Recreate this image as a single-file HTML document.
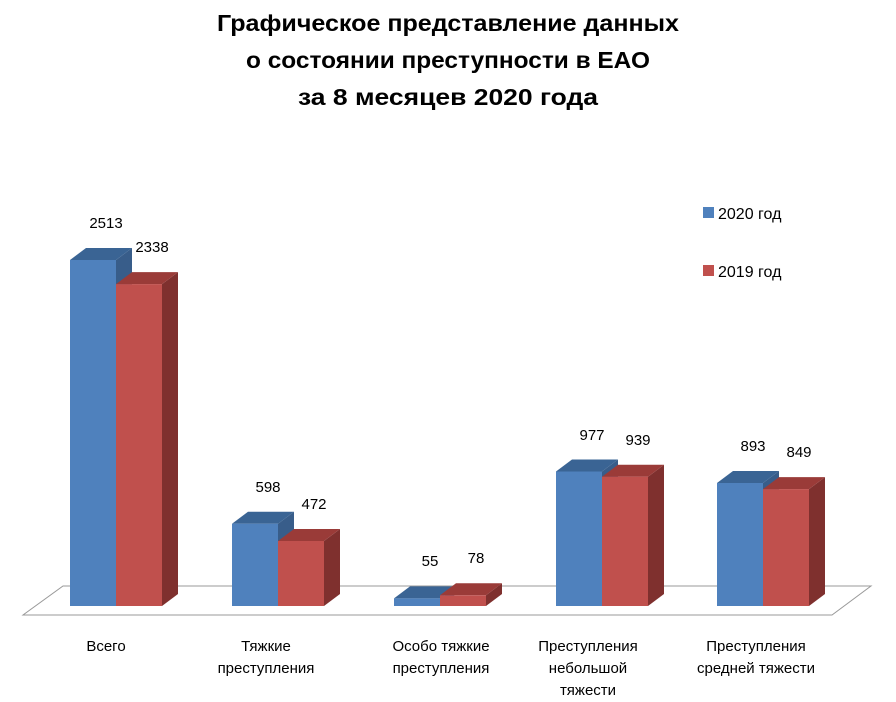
<!DOCTYPE html>
<html><head><meta charset="utf-8"><style>
body{margin:0;background:#fff;}
svg{display:block;font-family:"Liberation Sans","DejaVu Sans",sans-serif;}
</style></head><body>
<svg width="896" height="702" xmlns="http://www.w3.org/2000/svg">
<g font-weight="bold" font-size="23" text-anchor="middle" fill="#000">
<text x="448" y="31" textLength="462" lengthAdjust="spacingAndGlyphs">Графическое представление данных</text>
<text x="448" y="68" textLength="404" lengthAdjust="spacingAndGlyphs">о состоянии  преступности в ЕАО</text>
<text x="448" y="105" textLength="300" lengthAdjust="spacingAndGlyphs">за 8 месяцев 2020 года</text>
</g>
<polygon points="63,586 871,586 832,615 23,615" fill="#fff" stroke="#999" stroke-width="1"/>

<!-- group 0 -->
<polygon points="116,260 132,248 132,594 116,606" fill="#385d8a"/>
<polygon points="70,260 86,248 132,248 116,260" fill="#3a6494"/>
<rect x="70" y="260" width="46" height="346" fill="#4f81bd"/>
<polygon points="162,284.1 178,272.1 178,594 162,606" fill="#7f302e"/>
<polygon points="116,284.1 132,272.1 178,272.1 162,284.1" fill="#9a3b38"/>
<rect x="116" y="284.1" width="46" height="321.9" fill="#c0504d"/>
<!-- group 1 -->
<polygon points="278,523.7 294,511.7 294,594 278,606" fill="#385d8a"/>
<polygon points="232,523.7 248,511.7 294,511.7 278,523.7" fill="#3a6494"/>
<rect x="232" y="523.7" width="46" height="82.3" fill="#4f81bd"/>
<polygon points="324,541 340,529 340,594 324,606" fill="#7f302e"/>
<polygon points="278,541 294,529 340,529 324,541" fill="#9a3b38"/>
<rect x="278" y="541" width="46" height="65" fill="#c0504d"/>
<!-- group 2 -->
<polygon points="440,598.4 456,586.4 456,594 440,606" fill="#385d8a"/>
<polygon points="394,598.4 410,586.4 456,586.4 440,598.4" fill="#3a6494"/>
<rect x="394" y="598.4" width="46" height="7.6" fill="#4f81bd"/>
<polygon points="486,595.3 502,583.3 502,594 486,606" fill="#7f302e"/>
<polygon points="440,595.3 456,583.3 502,583.3 486,595.3" fill="#9a3b38"/>
<rect x="440" y="595.3" width="46" height="10.7" fill="#c0504d"/>
<!-- group 3 -->
<polygon points="602,471.5 618,459.5 618,594 602,606" fill="#385d8a"/>
<polygon points="556,471.5 572,459.5 618,459.5 602,471.5" fill="#3a6494"/>
<rect x="556" y="471.5" width="46" height="134.5" fill="#4f81bd"/>
<polygon points="648,476.7 664,464.7 664,594 648,606" fill="#7f302e"/>
<polygon points="602,476.7 618,464.7 664,464.7 648,476.7" fill="#9a3b38"/>
<rect x="602" y="476.7" width="46" height="129.3" fill="#c0504d"/>
<!-- group 4 -->
<polygon points="763,483 779,471 779,594 763,606" fill="#385d8a"/>
<polygon points="717,483 733,471 779,471 763,483" fill="#3a6494"/>
<rect x="717" y="483" width="46" height="123" fill="#4f81bd"/>
<polygon points="809,489.1 825,477.1 825,594 809,606" fill="#7f302e"/>
<polygon points="763,489.1 779,477.1 825,477.1 809,489.1" fill="#9a3b38"/>
<rect x="763" y="489.1" width="46" height="116.9" fill="#c0504d"/>

<g font-size="15" fill="#000" text-anchor="middle">
<text x="106" y="228">2513</text>
<text x="152" y="252">2338</text>
<text x="268" y="492">598</text>
<text x="314" y="509">472</text>
<text x="430" y="566">55</text>
<text x="476" y="563">78</text>
<text x="592" y="440">977</text>
<text x="638" y="445">939</text>
<text x="753" y="451">893</text>
<text x="799" y="457">849</text>
</g>
<g font-size="15" fill="#000" text-anchor="middle">
<text x="106" y="651">Всего</text>
<text x="266" y="651">Тяжкие</text>
<text x="266" y="673">преступления</text>
<text x="441" y="651">Особо тяжкие</text>
<text x="441" y="673">преступления</text>
<text x="588" y="651">Преступления</text>
<text x="588" y="673">небольшой</text>
<text x="588" y="695">тяжести</text>
<text x="756" y="651">Преступления</text>
<text x="756" y="673">средней тяжести</text>
</g>
<rect x="703" y="207" width="11" height="11" fill="#4f81bd"/>
<text x="718" y="219" font-size="16">2020 год</text>
<rect x="703" y="265" width="11" height="11" fill="#c0504d"/>
<text x="718" y="277" font-size="16">2019 год</text>
</svg>
</body></html>
